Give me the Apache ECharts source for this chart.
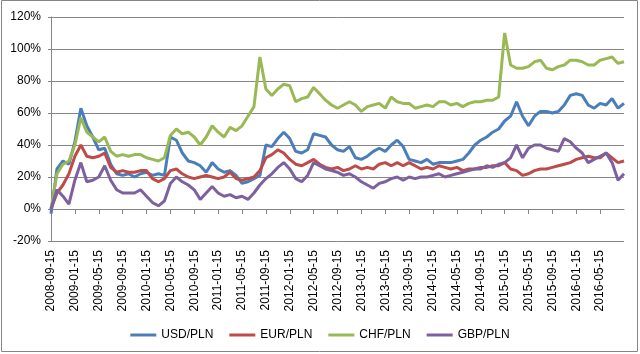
<!DOCTYPE html>
<html>
<head>
<meta charset="utf-8">
<script src="https://cdn.jsdelivr.net/npm/echarts@6/dist/echarts.min.js"></script>
<style>
  html, body { margin: 0; padding: 0; background: #fff; }
  #main { width: 640px; height: 354px; }
</style>
</head>
<body>
<div id="main"></div>
<script>
// monthly points, 15th of each month, 2008-09-15 .. 2016-09-15
var dates = []
for (var i = 0; i < 97; i++) {
  var y = 2008 + Math.floor((8 + i) / 12)
  var m = (8 + i) % 12 + 1
  dates.push(y + '-' + (m < 10 ? '0' + m : m) + '-15')
}

var names = ['USD/PLN', 'EUR/PLN', 'CHF/PLN', 'GBP/PLN']
var colors = ['#4A7EBB', '#BE4B48', '#98B954', '#7D60A0']

// % change vs 2008-09-15
var usd = [-3,25,30,28,42,63,52,45,37,38,
  28,22,21,22,20,22,23,21,22,21,
  45,43,35,30,29,27,23,29,25,23,
  24,21,16,17,19,21,40,39,44,48,
  44,36,35,37,47,46,45,40,37,36,
  39,32,31,33,36,38,36,40,43,39,
  31,30,29,31,28,29,29,29,30,31,
  35,40,43,45,48,50,55,58,67,58,
  52,58,61,61,60,61,65,71,72,71,
  65,63,66,65,69,63,66]
var eur = [0,10,15,22,33,40,33,32,33,35,
  26,23,24,23,23,24,24,19,17,19,
  24,25,22,20,19,20,21,20,19,20,
  23,19,18,19,20,24,32,34,37,35,
  31,28,27,29,31,28,26,25,26,24,
  25,27,25,26,25,28,29,27,29,27,
  29,27,25,26,25,27,26,25,26,24,
  25,25,26,26,27,27,29,25,24,21,
  22,24,25,25,26,27,28,29,31,32,
  33,32,32,35,32,29,30]
var chf = [0,22,28,30,40,57,48,45,42,45,
  36,33,34,33,34,34,32,31,30,32,
  46,50,47,48,45,40,45,52,48,45,
  51,49,52,58,64,95,75,71,75,78,
  77,67,69,70,76,72,68,65,63,65,
  67,65,61,64,65,66,63,70,67,66,
  66,63,64,65,64,67,67,65,66,64,
  66,67,67,68,68,70,110,90,88,88,
  89,92,93,88,87,89,90,93,93,92,
  90,90,93,94,95,91,92]
var gbp = [0,12,8,3,18,29,17,18,20,27,
  18,12,10,10,10,12,8,4,2,5,
  16,20,17,15,12,6,10,14,10,8,
  9,7,8,6,10,15,19,22,26,29,
  25,19,17,21,29,27,25,24,23,21,
  22,20,17,15,13,16,17,19,20,18,
  20,19,20,20,21,22,20,21,22,23,
  24,25,25,27,26,28,29,32,40,32,
  38,40,40,38,37,36,44,42,38,35,
  29,31,33,35,29,18,22]

var values = [usd, eur, chf, gbp]

// label / tick every 4 months, last point has none
function every4 (idx) {
  return idx % 4 === 0 && idx < 96
}

var myChart = echarts.init(document.querySelector('#main'))

var series = names.map(function (n, k) {
  return {
    name: n,
    type: 'line',
    data: values[k],
    symbol: 'none',
    lineStyle: { width: 3, color: colors[k] },
    itemStyle: { color: colors[k] }
  }
})

var option = {
  animation: false,
  textStyle: { fontFamily: 'Liberation Sans', fontSize: 12, color: '#000' },
  color: colors,
  graphic: [{
    type: 'rect',
    shape: { x: 1.5, y: 0.5, width: 636, height: 351 },
    style: { fill: 'none', stroke: '#868686', lineWidth: 1 },
    silent: true
  }],
  grid: {
    left: 51, right: 16, top: 17, bottom: 113,
    containLabel: false, outerBoundsMode: 'none'
  },
  legend: {
    data: names,
    left: 'center',
    top: 324,
    icon: 'rect',
    itemWidth: 26,
    itemHeight: 3,
    itemGap: 16,
    textStyle: { fontFamily: 'Liberation Sans', fontSize: 12, color: '#000' }
  },
  xAxis: [{
    type: 'category',
    data: dates,
    boundaryGap: false,
    position: 'bottom',
    axisLine: { show: false, onZero: false },
    axisTick: { show: false },
    axisLabel: {
      interval: every4, rotate: 90, margin: 9,
      fontFamily: 'Liberation Sans', fontSize: 12, color: '#000'
    },
    splitLine: { show: false }
  }, {
    type: 'category',
    data: dates,
    boundaryGap: false,
    position: 'bottom',
    axisLine: { show: true, onZero: true, lineStyle: { color: '#868686', width: 1 } },
    axisTick: { show: true, interval: every4, length: 5, lineStyle: { color: '#868686' } },
    axisLabel: { show: false },
    splitLine: { show: false }
  }],
  yAxis: {
    type: 'value',
    min: -20,
    max: 120,
    interval: 20,
    axisLine: { show: true, lineStyle: { color: '#868686' } },
    axisTick: { show: true, length: 3, lineStyle: { color: '#868686' } },
    axisLabel: {
      formatter: '{value}%', margin: 10,
      fontFamily: 'Liberation Sans', fontSize: 12, color: '#000'
    },
    splitLine: { show: true, lineStyle: { color: '#868686', width: 1 } }
  },
  series: series
}

myChart.setOption(option)
</script>
</body>
</html>
